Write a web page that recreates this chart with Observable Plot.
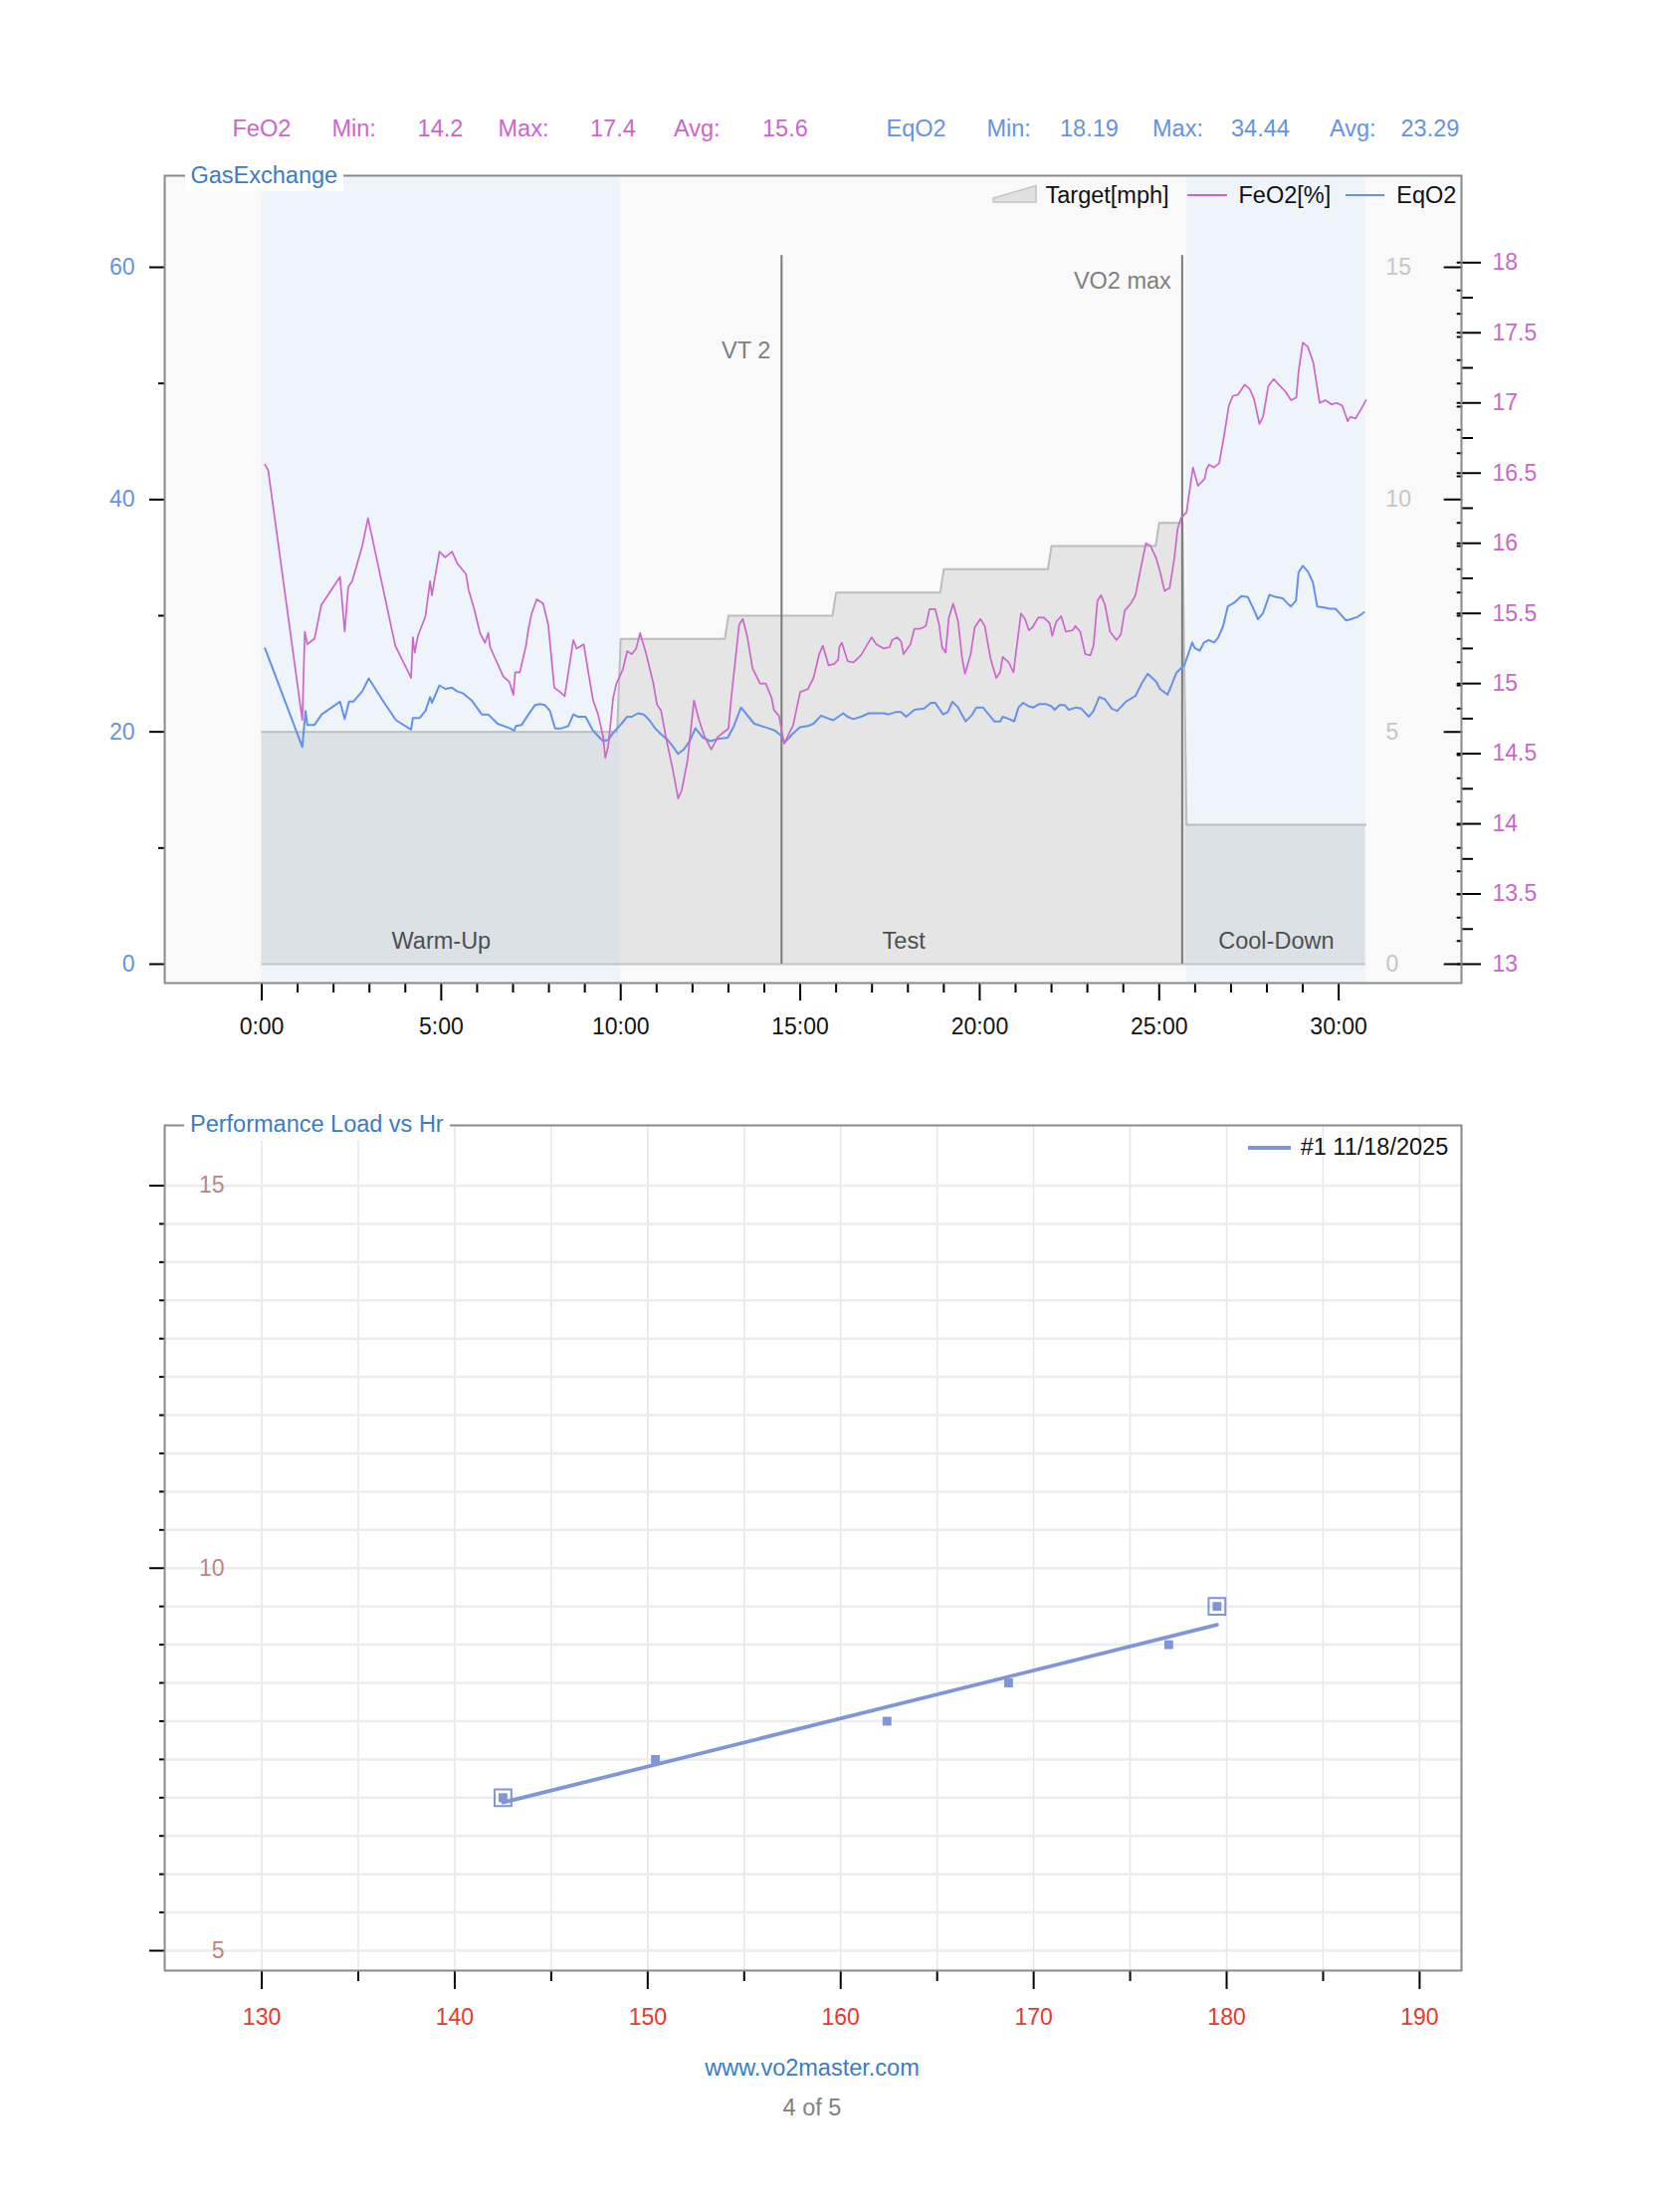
<!DOCTYPE html>
<html>
<head>
<meta charset="utf-8">
<script src="https://cdn.jsdelivr.net/npm/d3@7"></script>
<script src="https://cdn.jsdelivr.net/npm/@observablehq/plot@0.6"></script>
<style>
  html, body { margin: 0; padding: 0; background: #fff; overflow: hidden; }
  #page { position: relative; width: 1672px; height: 2222px; font-family: "Liberation Sans", Arial, Helvetica, sans-serif; background: #fff; }
  #page svg.plot { position: absolute; left: 0; }
  .abs { position: absolute; white-space: nowrap; line-height: 1; }
</style>
</head>
<body>
<div id="page"></div>
<script>
// ---------------- DATA ----------------
// Gas exchange time series (time in minutes)
const feo2Time = [0.09,0.18,1.13,1.20,1.27,1.47,1.66,2.18,2.31,2.41,2.52,2.80,2.96,3.72,4.16,4.21,4.26,4.35,4.56,4.69,4.74,4.95,5.11,5.30,5.44,5.69,5.76,5.92,6.08,6.22,6.31,6.36,6.73,6.90,7.01,7.06,7.19,7.36,7.43,7.52,7.66,7.84,7.98,8.15,8.31,8.44,8.68,8.77,8.97,9.09,9.23,9.37,9.51,9.57,9.65,9.79,9.88,10.06,10.18,10.31,10.43,10.54,10.70,10.91,11.01,11.12,11.28,11.44,11.60,11.70,11.86,12.04,12.18,12.34,12.52,12.71,13.00,13.08,13.30,13.40,13.53,13.67,13.88,14.04,14.20,14.27,14.41,14.55,14.68,14.80,15.00,15.21,15.37,15.53,15.63,15.79,15.95,16.06,16.09,16.16,16.32,16.48,16.69,16.85,16.99,17.12,17.33,17.49,17.56,17.70,17.81,17.88,18.07,18.18,18.34,18.50,18.60,18.76,18.87,18.95,19.05,19.14,19.26,19.40,19.51,19.59,19.75,19.86,20.02,20.14,20.30,20.46,20.57,20.64,20.81,20.94,21.05,21.15,21.26,21.37,21.47,21.63,21.79,21.95,22.02,22.13,22.27,22.40,22.59,22.66,22.80,22.94,23.08,23.17,23.28,23.38,23.49,23.63,23.81,23.93,24.04,24.21,24.34,24.47,24.63,24.76,24.92,25.03,25.15,25.29,25.42,25.51,25.61,25.76,25.94,26.08,26.27,26.32,26.39,26.52,26.67,26.79,26.94,27.05,27.20,27.38,27.52,27.64,27.79,27.89,28.04,28.19,28.33,28.52,28.67,28.82,28.88,29.00,29.14,29.29,29.47,29.63,29.80,29.95,30.10,30.25,30.32,30.47,30.61,30.76];
const feo2Pct = [16.56,16.52,14.74,15.37,15.28,15.32,15.56,15.76,15.37,15.69,15.73,15.98,16.18,15.27,15.04,15.33,15.22,15.34,15.48,15.73,15.63,15.94,15.90,15.94,15.86,15.78,15.67,15.53,15.36,15.29,15.36,15.26,15.05,15.01,14.92,15.08,15.08,15.27,15.39,15.50,15.60,15.57,15.42,14.97,14.94,14.91,15.31,15.25,15.28,15.09,14.88,14.78,14.62,14.47,14.55,14.90,15.00,15.10,15.23,15.21,15.25,15.36,15.22,15.00,14.85,14.81,14.59,14.40,14.18,14.24,14.45,14.88,14.74,14.62,14.53,14.62,14.68,14.90,15.42,15.46,15.33,15.11,15.00,15.00,14.90,14.81,14.77,14.57,14.64,14.70,14.94,14.96,15.04,15.21,15.27,15.13,15.14,15.17,15.26,15.29,15.16,15.15,15.20,15.27,15.33,15.28,15.25,15.26,15.31,15.33,15.30,15.21,15.28,15.39,15.39,15.41,15.53,15.53,15.42,15.26,15.22,15.47,15.57,15.44,15.18,15.07,15.21,15.40,15.46,15.41,15.18,15.04,15.08,15.19,15.15,15.08,15.30,15.50,15.46,15.38,15.40,15.47,15.47,15.43,15.34,15.44,15.48,15.37,15.38,15.41,15.37,15.21,15.20,15.27,15.59,15.63,15.56,15.37,15.31,15.35,15.52,15.57,15.63,15.80,16.00,15.98,15.89,15.79,15.66,15.68,15.89,16.10,16.18,16.22,16.54,16.41,16.46,16.53,16.56,16.54,16.57,16.74,16.98,17.05,17.06,17.13,17.10,17.03,16.85,16.90,17.12,17.17,17.13,17.08,17.02,17.04,17.22,17.43,17.40,17.29,17.00,17.02,16.99,17.00,16.98,16.87,16.90,16.89,16.95,17.02];

const eqo2Time = [0.09,1.13,1.22,1.27,1.47,1.67,2.18,2.31,2.43,2.55,2.80,2.98,3.35,3.74,4.16,4.21,4.40,4.56,4.69,4.74,4.95,5.11,5.30,5.44,5.62,5.85,6.13,6.31,6.57,6.92,7.03,7.08,7.24,7.43,7.61,7.75,7.89,8.03,8.17,8.35,8.54,8.68,8.81,9.02,9.21,9.32,9.51,9.65,9.81,10.02,10.18,10.31,10.48,10.64,10.80,10.96,11.12,11.28,11.44,11.60,11.76,11.92,12.08,12.29,12.50,12.71,12.98,13.14,13.35,13.56,13.72,13.93,14.12,14.30,14.46,14.57,14.78,14.99,15.21,15.37,15.58,15.74,15.92,16.06,16.20,16.32,16.48,16.69,16.91,17.12,17.33,17.46,17.65,17.81,17.95,18.18,18.45,18.64,18.76,18.98,19.11,19.24,19.40,19.61,19.77,19.91,20.09,20.25,20.41,20.57,20.64,20.83,20.96,21.08,21.21,21.37,21.50,21.66,21.84,22.00,22.09,22.22,22.37,22.48,22.69,22.83,23.04,23.17,23.33,23.49,23.68,23.83,24.07,24.34,24.50,24.68,24.92,25.02,25.23,25.34,25.48,25.71,25.92,25.99,26.13,26.25,26.38,26.53,26.64,26.78,26.91,27.08,27.29,27.47,27.61,27.75,27.89,28.07,28.26,28.44,28.56,28.67,28.81,28.88,29.00,29.14,29.28,29.40,29.60,29.74,29.91,30.06,30.20,30.34,30.53,30.71];
const eqo2Value = [27.2,18.7,21.8,20.6,20.6,21.5,22.6,21.1,22.6,22.6,23.5,24.6,22.8,21.0,20.2,21.2,21.2,21.8,23.0,22.5,24.0,23.7,23.8,23.5,23.3,22.7,21.5,21.5,20.7,20.3,20.1,20.5,20.6,21.5,22.3,22.4,22.3,21.8,20.3,20.3,20.5,21.5,21.3,21.3,20.2,19.8,19.2,19.3,20.0,20.7,21.3,21.3,21.6,21.5,21.0,20.3,19.8,19.4,18.8,18.1,18.5,19.2,20.3,19.5,19.2,19.4,19.5,20.4,22.1,21.3,20.7,20.5,20.3,20.1,19.7,19.1,19.8,20.4,20.5,20.7,21.4,21.2,21.0,21.3,21.6,21.3,21.1,21.3,21.6,21.6,21.6,21.5,21.7,21.7,21.3,21.9,22.0,22.5,22.5,21.5,21.7,22.6,22.1,20.9,21.4,22.1,22.1,21.5,20.9,20.9,21.3,21.1,20.9,22.1,22.5,22.2,22.1,22.4,22.4,22.2,21.9,22.3,22.3,21.9,22.1,22.0,21.3,21.8,23.0,22.8,22.0,21.8,22.6,23.1,24.1,25.0,24.3,23.7,23.2,24.0,25.1,25.8,27.7,27.2,27.0,27.7,27.9,27.7,28.1,29.1,30.8,31.1,31.7,31.6,30.7,29.7,30.2,31.8,31.6,31.5,31.1,30.8,31.3,33.7,34.3,33.8,32.9,30.8,30.7,30.6,30.6,30.1,29.6,29.7,29.9,30.3];

// Treadmill target speed (mph)
const targetTime = [0, 9.9, 10.0, 12.9, 13.0, 15.9, 16.0, 18.9, 19.0, 21.9, 22.0, 24.9, 25.0, 25.65, 25.76, 30.75];
const targetMph  = [5, 5, 7, 7, 7.5, 7.5, 8, 8, 8.5, 8.5, 9, 9, 9.5, 9.5, 3, 3];

// Phases and thresholds
const phaseNames  = ["Warm-Up", "Test", "Cool-Down"];
const phaseStart  = [0, 10, 25.77];
const phaseEnd    = [10, 25.77, 30.75];
const phaseShaded = [true, false, true];
const thresholdNames = ["VT 2", "VO2 max"];
const thresholdTime  = [14.48, 25.64];

// Summary statistics
const statLabels = ["Min:", "Max:", "Avg:"];
const feo2Stats = ["14.2", "17.4", "15.6"];
const eqo2Stats = ["18.19", "34.44", "23.29"];

// Performance load vs heart rate
const hrBpm   = [142.5, 150.4, 162.4, 168.7, 177.0, 179.5];
const loadMph = [7.0, 7.5, 8.0, 8.5, 9.0, 9.5];
const testLabel = "#1 11/18/2025";

// Tick values
const eqo2Ticks = [0, 20, 40, 60];
const eqo2MinorTicks = [10, 30, 50];
const mphTicks = [0, 5, 10, 15];
const mphMinorTicks = d3.range(0.5, 15, 0.5).filter(v => v % 5 !== 0);
const feo2Ticks = d3.range(13, 18.01, 0.5);
const feo2MinorTicks = d3.range(13.25, 18, 0.5);
const minuteTicks = d3.range(0, 31, 5);
const minuteMinorTicks = d3.range(1, 30).filter(v => v % 5 !== 0);
const hrTicks = d3.range(130, 191, 10);
const hrMinorTicks = d3.range(135, 190, 10);
const hrGrid = d3.range(130, 191, 5);
const loadTicks = [5, 10, 15];
const loadMinorTicks = d3.range(5.5, 15, 0.5).filter(v => v % 5 !== 0);
const loadGrid = d3.range(5, 15.01, 0.5);

// ---------------- STYLE ----------------
const FONT = '"Liberation Sans", Arial, Helvetica, sans-serif';
const FE_C = "#cc66cc";
const EQ_C = "#6592e8";
const TITLE_C = "#3a7cc7";
const PL_C = "#7f95d6";
const FE_K = 12.08;   // FeO2 % -> shared y units (13 % at 0)
const MPH_K = 4;      // mph -> shared y units
const feY = v => (v - 13) * FE_K;

const fe = feo2Time.map((t, i) => ({t, v: feo2Pct[i]}));
const eq = eqo2Time.map((t, i) => ({t, v: eqo2Value[i]}));
const target = targetTime.map((t, i) => ({t, mph: targetMph[i]}));
const phases = phaseNames.map((name, i) => ({name, start: phaseStart[i], end: phaseEnd[i], shaded: phaseShaded[i]}));
const thresholds = thresholdNames.map((name, i) => ({name, t: thresholdTime[i]}));
const perf = hrBpm.map((hr, i) => ({hr, load: loadMph[i]}));

const tickLine = {draw(context, l) { context.moveTo(0, 0); context.lineTo(0, -l); }};
const inwardTicks = (values, yOf, len) => Plot.vector(values, {
  y: yOf, frameAnchor: "right", length: len, rotate: -90, anchor: "start",
  shape: tickLine, stroke: "black", strokeWidth: 2
});

const page = document.getElementById("page");

// ---------------- TOP CHART ----------------
const topChart = Plot.plot({
  width: 1672, height: 1060,
  marginTop: 176, marginBottom: 73, marginLeft: 165, marginRight: 204,
  x: {domain: [-2.703, 33.42], label: null},
  y: {domain: [-1.629, 67.886], label: null},
  style: {fontFamily: FONT, fontSize: "23px", background: "transparent", overflow: "visible"},
  marks: [
    Plot.frame({fill: "#f9f9f9", stroke: "none"}),
    Plot.rectX(phases.filter(d => d.shaded), {x1: "start", x2: "end", fill: "#eef4fa"}),
    Plot.areaY(target, {x: "t", y: d => d.mph * MPH_K, fill: "#a0a0a0", fillOpacity: 0.22}),
    Plot.line(target, {x: "t", y: d => d.mph * MPH_K, stroke: "#bdbdbd", strokeWidth: 2}),
    Plot.ruleY([0], {x1: () => targetTime[0], x2: () => targetTime[targetTime.length - 1], stroke: "#c4c4c4", strokeWidth: 2}),
    Plot.ruleX(thresholds, {x: "t", y1: () => 0, y2: () => 61, stroke: "#7a7a7a", strokeWidth: 2}),
    Plot.line(eq, {x: "t", y: "v", stroke: EQ_C, strokeWidth: 2}),
    Plot.line(fe, {x: "t", y: d => feY(d.v), stroke: FE_C, strokeWidth: 1.7}),
    Plot.text(thresholds, {x: "t", y: (d, i) => [52.8, 58.8][i], text: "name", textAnchor: "end", dx: -11, fill: "#808080", fontSize: 23.5}),
    Plot.text(phases, {x: d => (d.start + d.end) / 2, y: () => 2, text: "name", fill: "#4f4f4f", fontSize: 23.5}),
    // left EqO2 axis
    Plot.axisY(eqo2Ticks, {anchor: "left", tickSize: 15, tickPadding: 15, stroke: "black", strokeWidth: 2, fill: EQ_C, label: null}),
    Plot.axisY(eqo2MinorTicks, {anchor: "left", tickSize: 6, stroke: "black", strokeWidth: 2, fill: "none", label: null}),
    // right inner mph axis (gray)
    Plot.axisY(mphTicks.map(v => v * MPH_K), {anchor: "right", tickSize: 0, tickPadding: -76, fill: "#c6c6c6", tickFormat: v => String(v / MPH_K), label: null}),
    inwardTicks(mphTicks, v => v * MPH_K, 17),
    inwardTicks(mphMinorTicks, v => v * MPH_K, 4),
    inwardTicks(feo2Ticks, v => feY(v), 4),
    // right FeO2 axis (magenta)
    Plot.axisY(feo2Ticks.map(feY), {anchor: "right", tickSize: 19, tickPadding: 12, stroke: "black", strokeWidth: 2, fill: FE_C, tickFormat: v => String(+(v / FE_K + 13).toFixed(2)), label: null}),
    Plot.axisY(feo2MinorTicks.map(feY), {anchor: "right", tickSize: 11, stroke: "black", strokeWidth: 2, fill: "none", label: null}),
    // time axis
    Plot.axisX(minuteTicks, {anchor: "bottom", tickSize: 18, tickPadding: 17, stroke: "black", strokeWidth: 2, fill: "#111", tickFormat: m => `${m}:00`, label: null}),
    Plot.axisX(minuteMinorTicks, {anchor: "bottom", tickSize: 10, stroke: "black", strokeWidth: 2, fill: "none", label: null}),
    Plot.frame({stroke: "#8a8a8a", strokeWidth: 2})
  ]
});
topChart.style.top = "0px";
page.appendChild(topChart);

// ---------------- BOTTOM CHART ----------------
const bottomChart = Plot.plot({
  width: 1672, height: 1000,
  marginTop: 70, marginBottom: 81, marginLeft: 165, marginRight: 204,
  x: {domain: [124.97, 192.17], label: null},
  y: {domain: [4.74, 15.787], label: null},
  style: {fontFamily: FONT, fontSize: "23px", background: "transparent", overflow: "visible"},
  marks: [
    Plot.frame({fill: "#ffffff", stroke: "none"}),
    Plot.gridX(hrGrid, {stroke: "#e6e6e6", strokeOpacity: 1, strokeWidth: 1.5}),
    Plot.gridY(loadGrid, {stroke: "#ececec", strokeOpacity: 1, strokeWidth: 2.5}),
    Plot.linearRegressionY(perf, {x: "hr", y: "load", stroke: PL_C, strokeWidth: 3.8, ci: 0}),
    Plot.dot(perf, {filter: (d, i) => i === 0 || i === perf.length - 1, x: "hr", y: "load", symbol: "square", r: 9.5, fill: "none", stroke: PL_C, strokeWidth: 2}),
    Plot.dot(perf, {x: "hr", y: "load", symbol: "square", r: 5, fill: PL_C}),
    Plot.axisY(loadTicks, {anchor: "left", tickSize: 15, stroke: "black", strokeWidth: 2, fill: "none", label: null}),
    Plot.axisY(loadMinorTicks, {anchor: "left", tickSize: 5, stroke: "black", strokeWidth: 2, fill: "none", label: null}),
    Plot.axisY(loadTicks, {anchor: "left", tickSize: 0, tickPadding: -60, fill: "#b98686", tickFormat: d => String(d), label: null}),
    Plot.axisX(hrTicks, {anchor: "bottom", tickSize: 19, tickPadding: 19, stroke: "black", strokeWidth: 2, fill: "#e8392b", tickFormat: d => String(d), label: null}),
    Plot.axisX(hrMinorTicks, {anchor: "bottom", tickSize: 11, stroke: "black", strokeWidth: 2, fill: "none", label: null}),
    Plot.frame({stroke: "#8a8a8a", strokeWidth: 2})
  ]
});
bottomChart.style.top = "1060px";
page.appendChild(bottomChart);

// ---------------- HTML TEXT / LEGENDS ----------------
function addText(txt, x, y, {color = "#000", size = 23.5, align = "left", bg = null, padX = 0} = {}) {
  const el = document.createElement("div");
  el.className = "abs";
  el.textContent = txt;
  el.style.left = x + "px";
  el.style.top = y + "px";
  el.style.color = color;
  el.style.fontSize = size + "px";
  const tx = align === "center" ? "-50%" : align === "right" ? "-100%" : "0";
  el.style.transform = `translate(${tx}, -50%)`;
  if (bg) { el.style.background = bg; el.style.padding = `3px ${padX}px`; }
  page.appendChild(el);
  return el;
}
function addLine(x1, x2, y, color, thick) {
  const el = document.createElement("div");
  el.className = "abs";
  el.style.left = x1 + "px";
  el.style.top = (y - thick / 2) + "px";
  el.style.width = (x2 - x1) + "px";
  el.style.height = thick + "px";
  el.style.background = color;
  page.appendChild(el);
}

// Summary line
const statY = 130;
addText("FeO2", 233.5, statY, {color: FE_C});
[333.5, 500.5, 677].forEach((x, i) => addText(statLabels[i], x, statY, {color: FE_C}));
[419.6, 593, 766].forEach((x, i) => addText(feo2Stats[i], x, statY, {color: FE_C}));
addText("EqO2", 890.5, statY, {color: EQ_C});
[991.5, 1158, 1336].forEach((x, i) => addText(statLabels[i], x, statY, {color: EQ_C}));
[1065, 1237, 1407.5].forEach((x, i) => addText(eqo2Stats[i], x, statY, {color: EQ_C}));

// Chart titles on frame
addText("GasExchange", 186, 177, {color: TITLE_C, bg: "#fff", padX: 5.5});
addText("Performance Load vs Hr", 185, 1130, {color: TITLE_C, bg: "#fff", padX: 6});

// Top legend
const tri = document.createElementNS("http://www.w3.org/2000/svg", "svg");
tri.setAttribute("width", "46"); tri.setAttribute("height", "20");
tri.style.position = "absolute"; tri.style.left = "997px"; tri.style.top = "185px";
tri.innerHTML = '<polygon points="1,14 44,1.5 44,18 1,18" fill="#e0e0e0" stroke="#c4c4c4" stroke-width="1.5"/>';
page.appendChild(tri);
addText("Target[mph]", 1050.5, 196.5, {color: "#111"});
addLine(1192.5, 1232.5, 195.5, FE_C, 2);
addText("FeO2[%]", 1244.5, 196.5, {color: "#111"});
addLine(1351.5, 1391, 195.5, EQ_C, 2);
addText("EqO2", 1403.3, 196.5, {color: "#111"});

// Bottom legend
addLine(1254, 1297, 1152.7, PL_C, 4);
addText(testLabel, 1306.7, 1152.5, {color: "#111"});

// Footer
addText("www.vo2master.com", 816, 2078, {color: TITLE_C, align: "center"});
addText("4 of 5", 816, 2118, {color: "#808080", align: "center"});
</script>
</body>
</html>
